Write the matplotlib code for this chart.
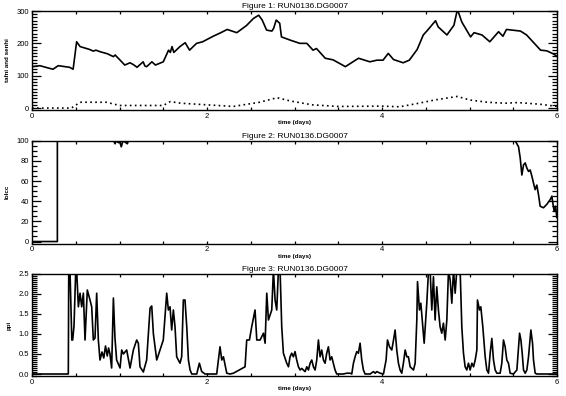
import matplotlib
matplotlib.use("Agg")
import matplotlib.pyplot as plt
from matplotlib.ticker import MultipleLocator
import numpy as np

plt.rcParams['font.family'] = ['Liberation Sans', 'DejaVu Sans']

run_name = "RUN0136.DG0007"

# Figure 1: tafni (solid) and senhi (dotted)
t_tafni = [0.0, 0.09, 0.17, 0.24, 0.3, 0.43, 0.47, 0.51, 0.55, 0.66, 0.70, 0.73, 0.78, 0.86,
           0.93, 0.95, 1.0, 1.06, 1.12, 1.16, 1.20, 1.27, 1.29, 1.31, 1.37, 1.41, 1.50, 1.56,
           1.58, 1.60, 1.62, 1.69, 1.75, 1.80, 1.88, 1.95, 2.07, 2.15, 2.23, 2.34, 2.45, 2.53,
           2.59, 2.63, 2.68, 2.74, 2.76, 2.79, 2.83, 2.85, 2.95, 3.06, 3.14, 3.21, 3.25, 3.35,
           3.44, 3.58, 3.73, 3.86, 3.94, 4.01, 4.07, 4.13, 4.24, 4.31, 4.40, 4.47, 4.52, 4.61,
           4.64, 4.74, 4.82, 4.86, 4.91, 5.01, 5.05, 5.14, 5.23, 5.33, 5.38, 5.42, 5.58, 5.65,
           5.81, 5.88, 5.96, 6.0]
tafni = [128, 131, 125, 120, 131, 126, 120, 205, 190, 181, 176, 179, 174, 168,
         159, 164, 150, 133, 140, 134, 126, 143, 130, 128, 143, 133, 143, 179,
         172, 190, 172, 190, 202, 179, 200, 205, 222, 232, 243, 233, 255, 277,
         287, 272, 241, 238, 246, 272, 262, 220, 210, 200, 200, 179, 184, 154,
         149, 128, 154, 143, 148, 148, 169, 150, 140, 148, 181, 226, 241, 270,
         251, 226, 256, 305, 266, 220, 233, 226, 205, 236, 222, 243, 238, 226,
         179, 177, 167, 159]

t_senhi = [0, 0.45, 0.55, 0.85, 1.0, 1.5, 1.58, 1.7, 2.0, 2.3, 2.6, 2.8, 2.95, 3.2, 3.5,
           4.0, 4.2, 4.4, 4.6, 4.86, 5.0, 5.2, 5.4, 5.55, 5.8, 6.0]
senhi = [0, 0, 18, 18, 8, 8, 20, 15, 10, 5, 18, 32, 22, 10, 5,
         6, 4, 14, 25, 36, 25, 18, 15, 17, 12, 5]

# Figure 2: lolcc
t_lolcc = [0.0, 0.29, 0.29, 0.93, 0.95, 0.96, 0.99, 1.0, 1.02, 1.04, 1.09, 1.1, 5.52,
           5.558, 5.577, 5.596, 5.615, 5.634, 5.653, 5.672, 5.691, 5.71, 5.729, 5.748,
           5.767, 5.786, 5.805, 5.843, 5.882, 5.92, 5.939, 5.95, 5.965, 5.981, 5.996, 6.0]
lolcc = [0, 0, 100, 100, 97, 100, 98, 100, 94, 100, 97, 100, 100,
         94, 83, 66, 76, 78, 73, 69.5, 71, 65, 58, 51.5,
         56, 46.5, 35, 33.5, 37, 41.6, 45, 38, 30, 35, 23.6, 28.5]

# Figure 3: ppi
t_ppi = [0.0, 0.415, 0.42, 0.434, 0.442, 0.455, 0.465, 0.48, 0.50, 0.51, 0.53, 0.549, 0.568,
         0.587, 0.606, 0.632, 0.663, 0.682, 0.701, 0.72, 0.739, 0.758, 0.777, 0.80, 0.82,
         0.84, 0.86, 0.875, 0.891, 0.91, 0.93, 0.948, 0.967, 1.006, 1.025, 1.044, 1.063,
         1.082, 1.12, 1.158, 1.196, 1.215, 1.234, 1.272, 1.31, 1.349, 1.368, 1.387, 1.425,
         1.463, 1.5, 1.539, 1.558, 1.577, 1.596, 1.615, 1.634, 1.653, 1.691, 1.71, 1.729,
         1.748, 1.768, 1.787, 1.806, 1.825, 1.882, 1.912, 1.939, 1.977, 2.11, 2.148, 2.168,
         2.187, 2.225, 2.263, 2.301, 2.434, 2.453, 2.484, 2.51, 2.548, 2.568, 2.606, 2.644,
         2.663, 2.682, 2.701, 2.739, 2.758, 2.777, 2.796, 2.815, 2.834,
         2.853, 2.872, 2.91, 2.93, 2.948, 2.967, 2.986, 3.005, 3.024, 3.044, 3.063, 3.082,
         3.10, 3.12, 3.139, 3.158, 3.177, 3.196, 3.215, 3.234, 3.253, 3.272, 3.291, 3.31,
         3.329, 3.348, 3.367, 3.386, 3.405, 3.424, 3.443, 3.462, 3.481, 3.52, 3.558, 3.596,
         3.634, 3.653, 3.672, 3.691, 3.71, 3.729, 3.748, 3.767, 3.786, 3.805, 3.863, 3.901,
         3.92, 3.939, 3.977, 4.015, 4.045, 4.061, 4.084, 4.11, 4.13, 4.148, 4.167, 4.186,
         4.205, 4.224, 4.243, 4.263, 4.282, 4.30, 4.32, 4.358, 4.377, 4.396, 4.404, 4.426,
         4.442, 4.465, 4.48, 4.51, 4.53, 4.548, 4.567, 4.586, 4.605, 4.624, 4.643, 4.662,
         4.681, 4.70, 4.72, 4.739, 4.758, 4.777, 4.796, 4.815, 4.834, 4.853, 4.891, 4.91,
         4.929, 4.948, 4.967, 4.986, 5.005, 5.025, 5.044, 5.063, 5.082, 5.089, 5.112, 5.127,
         5.15, 5.177, 5.196, 5.215, 5.234, 5.253, 5.272, 5.291, 5.31, 5.348, 5.367, 5.386,
         5.405, 5.424, 5.443, 5.462, 5.50, 5.539, 5.57, 5.585, 5.60, 5.615, 5.634, 5.653,
         5.672, 5.699, 5.718, 5.729, 5.748, 5.767, 6.0]
ppi = [0, 0, 2.6, 2.6, 1.9, 0.85, 0.85, 1.2, 2.6, 2.6, 1.68, 2.02, 1.68,
       2.02, 0.85, 2.1, 1.85, 1.68, 0.85, 0.9, 2.02, 0.85, 0.35, 0.55, 0.4,
       0.7, 0.45, 0.65, 0.5, 0.15, 1.9, 0.9, 0.35, 0.15, 0.6, 0.5, 0.55,
       0.6, 0.15, 0.6, 0.85, 0.77, 0.18, 0.05, 0.35, 1.65, 1.7, 1.0, 0.35,
       0.6, 0.85, 2.02, 1.6, 1.68, 1.1, 1.6, 1.18, 0.43, 0.27, 0.43, 1.85,
       1.85, 1.18, 0.35, 0.1, 0, 0, 0.27, 0.06, 0, 0, 0.68, 0.35,
       0.43, 0.02, 0, 0.02, 0.18, 0.85, 0.85, 1.18, 1.6, 0.85, 0.85, 1.02,
       0.77, 2.02, 1.35, 1.6, 2.6, 1.85, 1.6, 2.6, 2.6,
       1.18, 0.52, 0.27, 0.18, 0.43, 0.52, 0.43, 0.56, 0.35, 0.18, 0.1, 0.14,
       0.1, 0.06, 0.18, 0.1, 0.27, 0.35, 0.18, 0.1, 0.35, 0.85, 0.43, 0.6,
       0.35, 0.27, 0.52, 0.68, 0.35, 0.43, 0.27, 0.1, 0, 0, 0, 0.02,
       0.02, 0, 0.27, 0.43, 0.56, 0.52, 0.77, 0.35, 0.1, 0, 0, 0.06,
       0.02, 0.06, 0.02, 0, 0.35, 0.85, 0.68, 0.6, 0.85, 1.1, 0.6, 0.27,
       0.1, 0.02, 0.27, 0.6, 0.43, 0.43, 0.18, 0.1, 0.27, 1.35, 2.31, 1.6,
       1.77, 1.18, 0.77, 1.77, 2.6, 2.6, 1.6, 2.43, 1.35, 2.18, 1.6, 1.18,
       1.02, 1.27, 0.85, 1.35, 2.6, 2.35, 1.77, 2.6, 2.02, 2.6, 2.6, 1.18,
       0.52, 0.18, 0.1, 0.27, 0.1, 0.27, 0.18, 0.35, 0.6, 1.85, 1.6, 1.68,
       1.18, 0.43, 0.1, 0.02, 0.52, 0.89, 0.35, 0.1, 0.02, 0.02, 0.27, 0.85,
       0.68, 0.35, 0.27, 0.02, 0, 0.1, 1.02, 0.85, 0.52, 0.1, 0.02, 0.1,
       0.43, 1.1, 0.77, 0.35, 0.02, 0, 0]


def style_axis(ax, title, ylabel, ylim, ymajor, yminor):
    ax.set_xlim(0, 6)
    ax.set_ylim(ylim)
    ax.xaxis.set_major_locator(MultipleLocator(2))
    ax.xaxis.set_minor_locator(MultipleLocator(0.5))
    ax.yaxis.set_major_locator(MultipleLocator(ymajor))
    ax.yaxis.set_minor_locator(MultipleLocator(yminor))
    ax.tick_params(axis='both', which='both', direction='in', top=True, right=True,
                   labelsize=5.5, pad=2, width=0.9)
    ax.tick_params(axis='y', which='major', length=6.5)
    ax.tick_params(axis='y', which='minor', length=3.5)
    ax.tick_params(axis='x', which='both', length=2)
    for s in ax.spines.values():
        s.set_linewidth(1.0)
    ax.set_title(f"{title}: {run_name}", fontsize=6, pad=2)
    ax.set_xlabel("time (days)", fontsize=4.5, fontweight='bold', labelpad=0.5)
    ax.set_ylabel(ylabel, fontsize=4.5, fontweight='bold', labelpad=5)


fig = plt.figure(figsize=(5.66, 3.96), dpi=100)
ax1 = fig.add_axes([0.0565, 0.7222, 0.928, 0.25])
ax2 = fig.add_axes([0.0565, 0.385, 0.928, 0.2596])
ax3 = fig.add_axes([0.0565, 0.0505, 0.928, 0.2576])

ax1.plot(t_tafni, tafni, color='black', lw=1.2)
ax1.plot(t_senhi, senhi, color='black', lw=1.2, linestyle=(0, (1, 2)))
style_axis(ax1, "Figure 1", "tafni and senhi", (-6, 300), 100, 10)

ax2.plot(t_lolcc, lolcc, color='black', lw=1.2)
style_axis(ax2, "Figure 2", "lolcc", (-2, 100), 20, 5)

ax3.plot(t_ppi, ppi, color='black', lw=1.2)
ax3.yaxis.set_major_formatter(matplotlib.ticker.FormatStrFormatter('%.1f'))
style_axis(ax3, "Figure 3", "ppi", (-0.05, 2.5), 0.5, 0.05)

fig.savefig("out.png", dpi=100)
